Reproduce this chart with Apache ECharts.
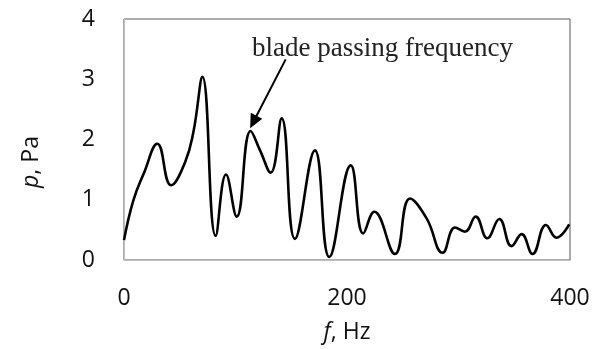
<!DOCTYPE html>
<html>
<head>
<meta charset="utf-8">
<script src="https://cdn.jsdelivr.net/npm/echarts@6/dist/echarts.min.js"></script>
<style>html,body{margin:0;padding:0;background:#fff;}#c{width:601px;height:349px;}</style>
</head>
<body>
<div id="c"></div>
<script>
var freq = [0,8.4,18,29.9,42.2,54.7,62.2,70.3,82.2,91.5,101.1,113.6,122.0,131.5,141.4,153.3,171.2,184.1,203.4,214.6,224.5,243.0,256.5,271.4,285.8,296.9,305.8,315.4,325.8,336.6,347.6,356.6,366.4,378.4,387.9,399.3];
var pressure = [0.33,0.99,1.45,1.93,1.24,1.62,2.12,3.04,0.40,1.42,0.72,2.14,1.82,1.45,2.35,0.35,1.82,0.05,1.57,0.44,0.80,0.10,1.02,0.69,0.12,0.54,0.47,0.72,0.36,0.68,0.23,0.43,0.10,0.58,0.37,0.59];
var xTicks = [0,200,400];
var yTicks = [0,1,2,3,4];
var annotationText = 'blade passing frequency';
var arrowFrom = [145, 3.33];
var arrowTo = [116, 2.29];

var chart = echarts.init(document.getElementById('c'), null, {renderer:'canvas'});
var pts = freq.map(function(f,i){return [f, pressure[i]];});
chart.setOption({
  animation:false,
  backgroundColor:'#fff',
  grid:{left:124,right:31,top:19,bottom:87,show:true,borderColor:'#595959',borderWidth:1,backgroundColor:'transparent'},
  xAxis:{type:'value',min:xTicks[0],max:xTicks[xTicks.length-1],interval:200,
    axisLine:{show:true,lineStyle:{color:'#bfbfbf',width:1}},axisTick:{show:false},splitLine:{show:false},
    axisLabel:{margin:27,color:'#111',fontFamily:'Open Sans',fontSize:23},
    name:'{i|f}, Hz',nameLocation:'middle',nameGap:61,
    nameTextStyle:{color:'#111',fontFamily:'Open Sans',fontSize:23,rich:{i:{fontStyle:'italic',fontFamily:'Open Sans',fontSize:23,color:'#111'}}}},
  yAxis:{type:'value',min:yTicks[0],max:yTicks[yTicks.length-1],interval:1,
    axisLine:{show:true,lineStyle:{color:'#bfbfbf',width:1}},axisTick:{show:false},splitLine:{show:false},
    axisLabel:{margin:29,color:'#111',fontFamily:'Open Sans',fontSize:23}},
  graphic:[
    {type:'text',left:252,top:35,style:{text:annotationText,font:'27px "Liberation Serif"',fill:'#222'}},
    {type:'text',x:31,y:162,rotation:Math.PI/2,style:{text:'{i|p}, Pa',align:'center',verticalAlign:'middle',font:'23px "Open Sans"',fill:'#111',rich:{i:{fontStyle:'italic',font:'italic 23px "Open Sans"',fill:'#111'}}}}
  ],
  series:[{type:'line',data:pts,smooth:0.45,showSymbol:false,symbol:'none',
    lineStyle:{color:'#000',width:2.6},
    markLine:{silent:true,symbol:['none','triangle'],symbolSize:[13,14],
      lineStyle:{color:'#000',width:2,type:'solid'},label:{show:false},
      data:[[{coord:arrowFrom},{coord:arrowTo}]]}
  }]
});
</script>
</body>
</html>
